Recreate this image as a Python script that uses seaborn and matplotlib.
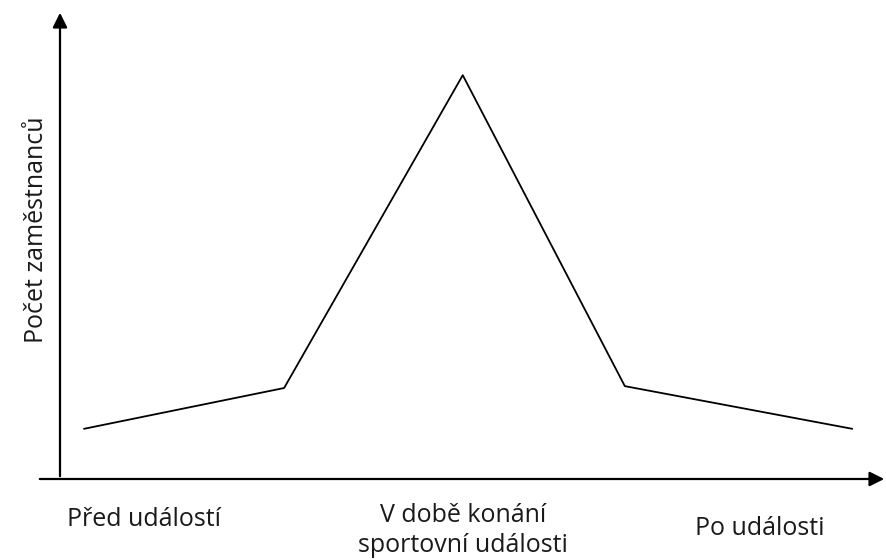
import numpy as np
import matplotlib.pyplot as plt
import pandas as pd
import seaborn as sns

# data (relative units)
cas = [2.9, 27.1, 48.7, 68.3, 95.8]
zamestnanci = [10.7, 19.4, 86.1, 19.8, 10.7]
popisky = ["Před událostí", "V době konání\nsportovní události", "Po události"]
popisky_x = [10.2, 48.7, 84.6]
popisky_y = [-8.7, -11.0, -10.6]

df = pd.DataFrame({"cas": cas, "pocet": zamestnanci})

sns.set_style("white")
plt.rcParams["font.family"] = ["Open Sans", "DejaVu Sans"]

fig = plt.figure(figsize=(8.87, 5.60), dpi=100)
ax = fig.add_axes([37 / 887, 81 / 560, 850 / 887, 469 / 560])

sns.lineplot(data=df, x="cas", y="pocet", color="black", linewidth=1.3, ax=ax)

ax.set_xlim(-23 / 827 * 100, 100)
ax.set_ylim(0, 100)
for s in ax.spines.values():
    s.set_visible(False)
ax.set_xticks([])
ax.set_yticks([])
ax.set_xlabel("")
ax.set_ylabel("")

# osy se šipkami
arrow = dict(arrowstyle="-|>", color="black", lw=1.6, mutation_scale=22)
ax.annotate("", xy=(1.0, 0), xytext=(0, 0), xycoords="axes fraction",
            textcoords="axes fraction", arrowprops=arrow, annotation_clip=False)
ax.annotate("", xy=(0, 1.0), xytext=(0, 0), xycoords=("data", "axes fraction"),
            textcoords=("data", "axes fraction"), arrowprops=arrow, annotation_clip=False)

for t, x, y in zip(popisky, popisky_x, popisky_y):
    ax.text(x, y, t, ha="center", va="center", fontsize=18, color="#1a1a1a",
            linespacing=1.25, clip_on=False)

ax.text(-2.8, 53.1, "Počet zaměstnanců", rotation=90, ha="center", va="center",
        fontsize=18, color="#1a1a1a", clip_on=False)

fig.savefig("out.png", dpi=100)
